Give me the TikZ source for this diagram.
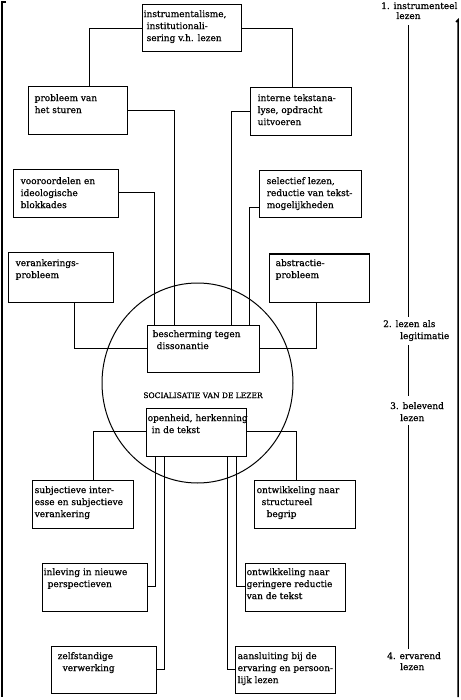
\documentclass[tikz,border=0pt]{standalone}
\usepackage{fontspec}
\setmainfont{DejaVu Serif}[FakeBold=0.7]
\usetikzlibrary{fit,shapes.geometric}
\tikzset{
  boxst/.style={draw, line width=1pt, inner sep=0pt},
  txt/.style={inner sep=0pt, anchor=north west, align=left, font=\fontsize{9}{12}\selectfont},
  lab/.style={inner sep=0pt, anchor=base west, font=\fontsize{9}{12}\selectfont},
  conn/.style={line width=1pt},
  frame/.style={line width=1.5pt},
}
\newcommand\mybox[8]{%
  \coordinate (#1a) at (#2,#3);
  \coordinate (#1b) at (#4,#5);
  \node[boxst, fit=(#1a)(#1b)] (#1) {};
  \node[txt] (#1t) at ([xshift=#6pt, yshift={4.5pt-#7pt}]#1.north west) {#8};
}
\begin{document}
\begin{tikzpicture}[x=1pt,y=-1pt]
\useasboundingbox (0,0) rectangle (460,700);
% frame
\draw[frame] (6,2) -- (2,2) -- (2,697);
\draw[frame] (456,22) -- (458,20) -- (458,697);
% circle
\node[draw, ellipse, line width=1pt, minimum width=191pt, minimum height=200pt, inner sep=0pt] (circ) at (197.5,383) {};
\node[lab, anchor=base, font=\fontsize{7.5}{9}\selectfont] (soc) at (203,398) {SOCIALISATIE VAN DE LEZER};
% boxes
\mybox{top}{142}{5}{241}{52}{2}{10}{instrumentalisme,\\\hspace*{3pt}institutionali-\\\hspace*{3pt}sering v.h. lezen}
\mybox{prob}{28}{87}{127}{135}{7}{12}{probleem van\\het sturen}
\mybox{intern}{250}{88}{351}{136}{8}{11}{interne tekstana-\\lyse, opdracht\\uitvoeren}
\mybox{voor}{13}{170}{118}{218}{8}{12}{vooroordelen en\\ideologische\\blokkades}
\mybox{sel}{259}{171}{361}{218}{8}{11}{selectief lezen,\\reductie van tekst-\\mogelijkheden}
\mybox{veran}{8}{253}{113}{302}{8}{11}{verankerings-\\probleem}
\mybox{abstr}{269}{254}{369}{302}{7}{10}{abstractie-\\probleem}
\mybox{besch}{147}{325}{259}{372}{6}{10}{bescherming tegen\\\hspace*{4pt}dissonantie}
\mybox{open}{146}{408}{246}{456}{2}{11}{openheid, herkenning\\\hspace*{4pt}in de tekst}
\mybox{subj}{32}{480}{133}{528}{3}{11}{subjectieve inter-\\esse en subjectieve\\verankering}
\mybox{ontwa}{254}{480}{355}{528}{3}{11}{ontwikkeling naar\\\hspace*{5pt}structureel\\\hspace*{10pt}begrip}
\mybox{inlev}{42}{563}{147}{611}{2}{10}{inleving in nieuwe\\\hspace*{4pt}perspectieven}
\mybox{ontwb}{245}{563}{345}{611}{2}{10}{ontwikkeling naar\\geringere reductie\\van de tekst}
\mybox{zelf}{51}{646}{156}{693}{7}{11}{zelfstandige\\\hspace*{5pt}verwerking}
\mybox{aans}{235}{646}{335}{693}{3}{11}{aansluiting bij de\\ervaring en persoon-\\lijk lezen}
% connectors upper part
\draw[conn] (top.west) -| ([xshift=62pt]prob.north west);
\draw[conn] (top.east) -| ([xshift=43pt]intern.north west);
\draw[conn] ([yshift=-24pt]prob.north east) -| ([xshift=28pt]besch.north west);
\draw[conn] ([yshift=-24pt]intern.north west) -| ([xshift=85pt]besch.north west);
\draw[conn] ([yshift=-23pt]voor.north east) -| ([xshift=8pt]besch.north west);
\draw[conn] ([yshift=-37pt]sel.north west) -| ([xshift=103pt]besch.north west);
\draw[conn] ([xshift=67pt]veran.south west) |- (besch.west);
\draw[conn] ([xshift=48pt]abstr.south west) |- (besch.east);
% connectors lower part
\draw[conn] ([yshift=-24pt]open.north west) -| ([xshift=62pt]subj.north west);
\draw[conn] ([yshift=-24pt]open.north east) -| ([xshift=43pt]ontwa.north west);
\draw[conn] ([xshift=10pt]open.south west) |- ([yshift=-24pt]inlev.north east);
\draw[conn] ([xshift=19pt]open.south west) |- ([yshift=-24pt]zelf.north east);
\draw[conn] ([xshift=-10pt]open.south east) |- ([yshift=-24pt]ontwb.north west);
\draw[conn] ([xshift=-19pt]open.south east) |- ([yshift=-24pt]aans.north west);
% right column
\node[lab] (l1) at (381,9) {1. instrumenteel};
\node[lab, anchor=base] (l1b) at (408.5,19) {lezen};
\node[lab] (l2) at (383,327) {2. lezen als};
\node[lab] (l2b) at (400,339) {legitimatie};
\node[lab] (l3) at (390,409) {3. belevend};
\node[lab] (l3b) at (400,421) {lezen};
\node[lab] (l4) at (387,659) {4. ervarend};
\node[lab] (l4b) at (400,670) {lezen};
\draw[conn] ([yshift=-6pt]l1b.south) -- ([yshift=3pt]l1b.south |- l2.north);
\draw[conn] ([yshift=-4pt]l1b.south |- l2b.south) -- ([yshift=6pt]l1b.south |- l3.north);
\draw[conn] ([yshift=-4pt]l1b.south |- l3b.south) -- ([yshift=3pt]l1b.south |- l4.north);
\end{tikzpicture}
\end{document}
